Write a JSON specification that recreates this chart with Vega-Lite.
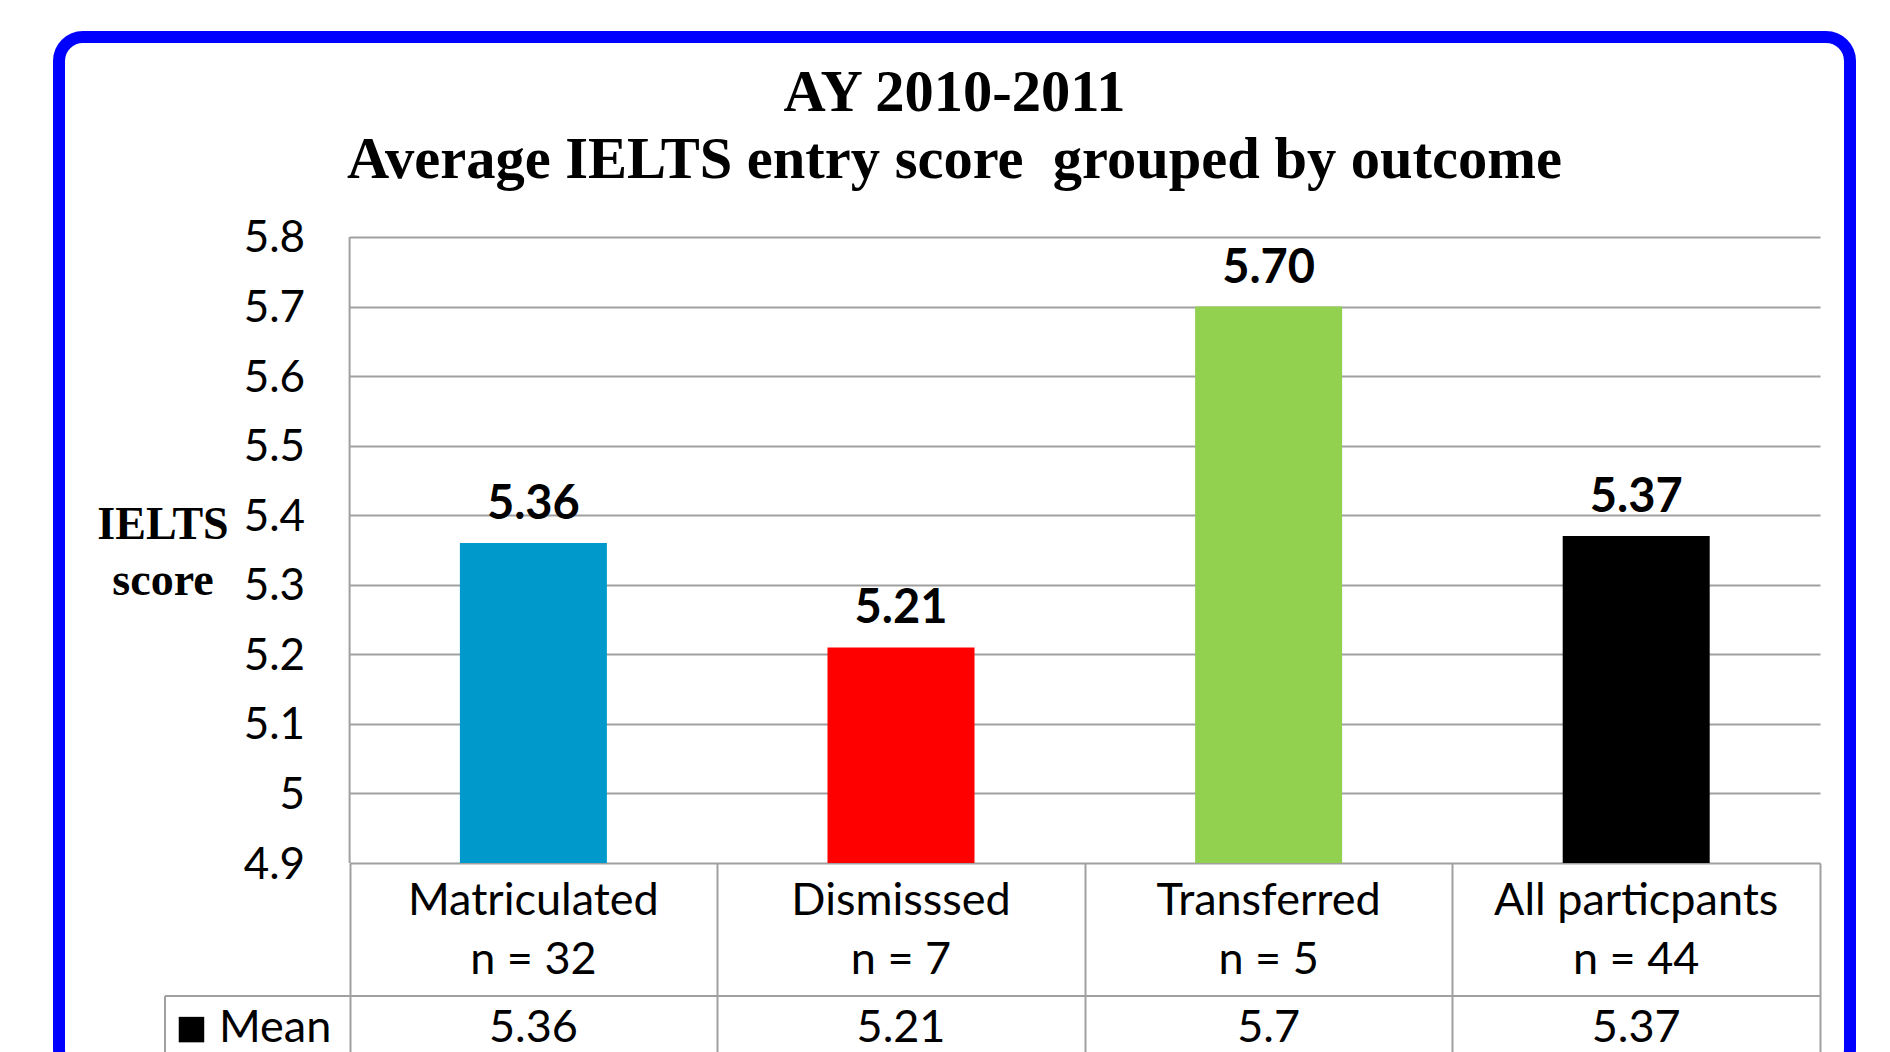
{
  "$schema": "https://vega.github.io/schema/vega-lite/v6.json",
  "width": 1791,
  "height": 1036,
  "autosize": {"type": "none"},
  "padding": {"left": 59, "top": 37, "right": 40, "bottom": -21},
  "background": "#ffffff",
  "config": {
    "view": {"stroke": "#0000FF", "strokeWidth": 12, "cornerRadius": 24, "fill": "#ffffff"},
    "font": "Lato"
  },
  "layer": [
    {
      "data": {
        "values": [
          {"outcome": "Matriculated", "n": "n = 32", "mean": 5.36},
          {"outcome": "Dismisssed", "n": "n = 7", "mean": 5.21},
          {"outcome": "Transferred", "n": "n = 5", "mean": 5.7},
          {"outcome": "All particpants", "n": "n = 44", "mean": 5.37}
        ]
      },
      "transform": [{"window": [{"op": "row_number", "as": "i"}]}],
      "layer": [
        {
          "mark": {"type": "bar", "width": 147},
          "encoding": {
            "x": {
              "field": "i", "type": "quantitative", "title": null,
              "scale": {"domain": [-0.2905, 4.5816], "nice": false, "zero": false, "padding": 0},
              "axis": {
                "orient": "bottom", "offset": -210,
                "values": [0.5, 1.5, 2.5, 3.5, 4.5],
                "tickSize": 210, "tickColor": "#a0a0a0", "tickWidth": 2,
                "labels": false, "domain": false, "grid": false, "title": null
              }
            },
            "y": {
              "field": "mean", "type": "quantitative", "title": null,
              "scale": {"domain": [4.5982, 6.0875], "nice": false, "zero": false, "padding": 0},
              "axis": {
                "orient": "left", "offset": -1761,
                "values": [4.9, 5, 5.1, 5.2, 5.3, 5.4, 5.5, 5.6, 5.7, 5.8],
                "tickSize": 1470.4, "tickColor": "#a0a0a0", "tickWidth": 2,
                "domain": false, "grid": false, "labelPadding": 45, "labelOffset": 2,
                "labelFont": "Lato", "labelFontSize": 44, "labelColor": "#000000",
                "format": "~g", "title": null, "labelFlush": false, "labelOverlap": false
              }
            },
            "y2": {"datum": 4.9},
            "color": {
              "field": "outcome", "type": "nominal",
              "scale": {
                "domain": ["Matriculated", "Dismisssed", "Transferred", "All particpants"],
                "range": ["#0099CC", "#FF0000", "#92D050", "#000000"]
              },
              "legend": null
            }
          }
        },
        {
          "mark": {"type": "text", "font": "Lato", "fontWeight": "bold", "fontSize": 47, "baseline": "alphabetic", "dy": -24, "color": "#000000"},
          "encoding": {
            "x": {"field": "i", "type": "quantitative", "title": null},
            "y": {"field": "mean", "type": "quantitative", "title": null},
            "text": {"field": "mean", "type": "quantitative", "format": ".2f"}
          }
        },
        {
          "mark": {"type": "text", "font": "Lato", "fontSize": 45, "baseline": "middle", "color": "#000000"},
          "encoding": {
            "x": {"field": "i", "type": "quantitative", "title": null},
            "y": {"datum": 4.8448, "type": "quantitative", "title": null},
            "text": {"field": "outcome", "type": "nominal"}
          }
        },
        {
          "mark": {"type": "text", "font": "Lato", "fontSize": 45, "baseline": "middle", "color": "#000000"},
          "encoding": {
            "x": {"field": "i", "type": "quantitative", "title": null},
            "y": {"datum": 4.76, "type": "quantitative", "title": null},
            "text": {"field": "n", "type": "nominal"}
          }
        },
        {
          "mark": {"type": "text", "font": "Lato", "fontSize": 45, "baseline": "middle", "color": "#000000"},
          "encoding": {
            "x": {"field": "i", "type": "quantitative", "title": null},
            "y": {"datum": 4.6636, "type": "quantitative", "title": null},
            "text": {"field": "mean", "type": "quantitative", "format": "~g"}
          }
        }
      ]
    },
    {
      "data": {"values": [{}]},
      "layer": [
        {
          "mark": {"type": "rule", "color": "#a0a0a0", "strokeWidth": 2},
          "encoding": {
            "x": {"datum": 0.5, "type": "quantitative", "title": null},
            "y": {"datum": 5.8, "type": "quantitative", "title": null},
            "y2": {"datum": 4.9}
          }
        },
        {
          "mark": {"type": "rule", "color": "#a0a0a0", "strokeWidth": 2},
          "encoding": {
            "x": {"datum": -0.0021, "type": "quantitative", "title": null},
            "x2": {"datum": 4.5},
            "y": {"datum": 4.7088, "type": "quantitative", "title": null}
          }
        },
        {
          "mark": {"type": "rule", "color": "#a0a0a0", "strokeWidth": 2},
          "encoding": {
            "x": {"datum": -0.0021, "type": "quantitative", "title": null},
            "y": {"datum": 4.7088, "type": "quantitative", "title": null},
            "y2": {"datum": 4.5982}
          }
        },
        {
          "mark": {"type": "square", "size": 650, "color": "#000000", "filled": true, "opacity": 1},
          "encoding": {
            "x": {"datum": 0.0699, "type": "quantitative", "title": null},
            "y": {"datum": 4.6606, "type": "quantitative", "title": null}
          }
        },
        {
          "mark": {"type": "text", "text": "Mean", "font": "Lato", "fontSize": 45, "align": "left", "baseline": "middle", "color": "#000000"},
          "encoding": {
            "x": {"datum": 0.1448, "type": "quantitative", "title": null},
            "y": {"datum": 4.6636, "type": "quantitative", "title": null}
          }
        },
        {
          "mark": {"type": "text", "text": ["IELTS", "score"], "font": "Liberation Serif", "fontWeight": "bold", "fontSize": 46, "lineHeight": 56, "align": "center", "baseline": "middle", "color": "#000000"},
          "encoding": {
            "x": {"datum": -0.0076, "type": "quantitative", "title": null},
            "y": {"datum": 5.3853, "type": "quantitative", "title": null}
          }
        },
        {
          "mark": {"type": "text", "text": ["AY 2010-2011", "Average IELTS entry score\u00a0 grouped by outcome"], "font": "Liberation Serif", "fontWeight": "bold", "fontSize": 58.5, "lineHeight": 67, "align": "center", "baseline": "alphabetic", "color": "#000000"},
          "encoding": {
            "x": {"datum": 2.1456, "type": "quantitative", "title": null},
            "y": {"datum": 5.9811, "type": "quantitative", "title": null}
          }
        }
      ]
    }
  ]
}
